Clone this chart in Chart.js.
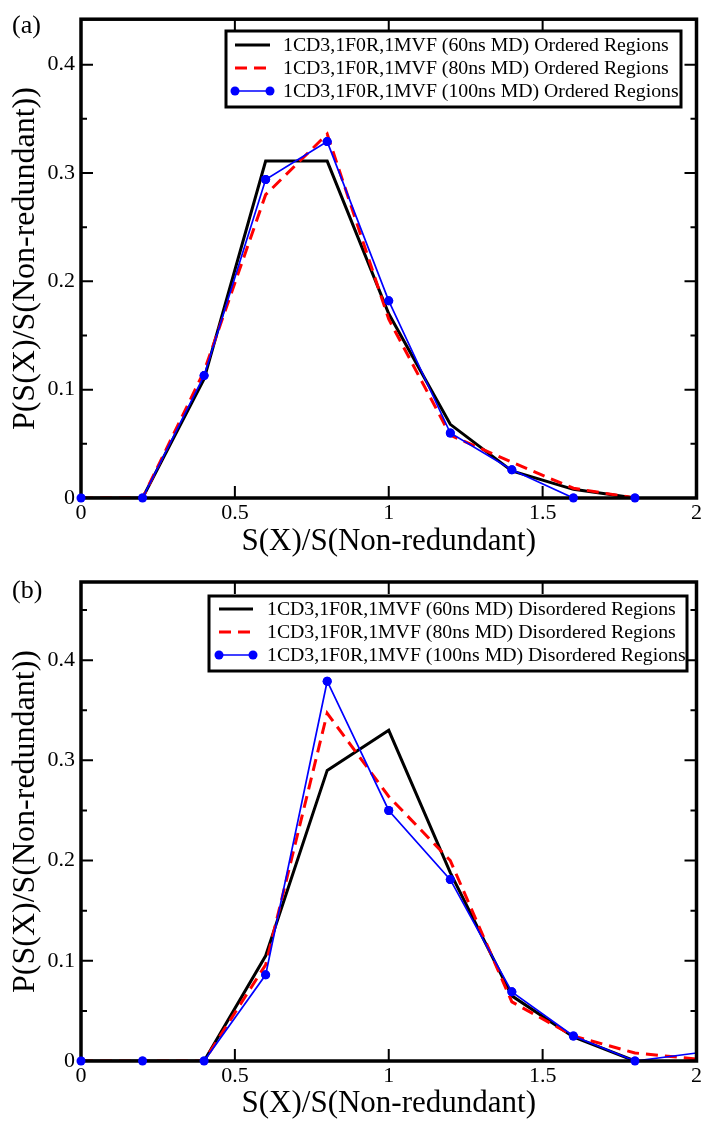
<!DOCTYPE html>
<html><head><meta charset="utf-8">
<script src="https://cdn.jsdelivr.net/npm/chart.js@4"></script>
<style>
body{margin:0;background:#fff;width:704px;height:1122px;overflow:hidden}
.wrap{position:absolute;left:0;width:704px;height:561px}
</style>
</head><body>
<div class="wrap" style="top:0"><canvas id="c1" width="704" height="561"></canvas></div>
<div class="wrap" style="top:561px"><canvas id="c2" width="704" height="561"></canvas></div>
<script>
// ---------- data ----------
const xValues = [0, 0.2, 0.4, 0.6, 0.8, 1.0, 1.2, 1.4, 1.6, 1.8, 2.0];

const seriesNames = ['60ns MD', '80ns MD', '100ns MD'];

// panel (a): ordered regions
const ordered60  = [0, 0, 0.110, 0.311, 0.311, 0.170, 0.068, 0.025, 0.008, 0];
const ordered80  = [0, 0, 0.117, 0.280, 0.336, 0.165, 0.058, 0.033, 0.009, 0];
const ordered100 = [0, 0, 0.113, 0.294, 0.329, 0.182, 0.060, 0.026, 0, 0];

// panel (b): disordered regions
const disordered60  = [0, 0, 0, 0.105, 0.290, 0.330, 0.188, 0.065, 0.024, 0];
const disordered80  = [0, 0, 0, 0.096, 0.347, 0.264, 0.200, 0.059, 0.025, 0.008, 0.002];
const disordered100 = [0, 0, 0, 0.086, 0.379, 0.250, 0.181, 0.069, 0.025, 0, 0.008];

// ticks
const xTickValues = [0, 0.5, 1, 1.5, 2];
const xTickLabels = ['0', '0.5', '1', '1.5', '2'];
const yTickValues = [0, 0.1, 0.2, 0.3, 0.4];
const yTickLabels = ['0', '0.1', '0.2', '0.3', '0.4'];
const yMinorA = [0.05, 0.15, 0.25, 0.35];
const yMinorB = [0.05, 0.15, 0.25, 0.35, 0.45];

const xTitle = 'S(X)/S(Non-redundant)';
const yTitle = 'P(S(X)/S(Non-redundant))';

// ---------- rendering ----------
const FONT = '"Liberation Serif", "Times New Roman", serif';

function pts(arr){ return arr.map((v,i)=>({x:xValues[i], y:v})); }

const framePlugin = {
  id: 'frame',
  afterDatasetsDraw(chart, args, o) {
    const {ctx, chartArea: a, scales: {x, y}} = chart;
    ctx.save();
    ctx.strokeStyle = '#000';
    ctx.lineWidth = 2;
    ctx.beginPath();
    xTickValues.forEach(v => {
      const px = x.getPixelForValue(v);
      ctx.moveTo(px, a.bottom); ctx.lineTo(px, a.bottom - 12);
      ctx.moveTo(px, a.top); ctx.lineTo(px, a.top + 12);
    });
    const tk = (v, len) => {
      const py = y.getPixelForValue(v);
      ctx.moveTo(a.left, py); ctx.lineTo(a.left + len, py);
      ctx.moveTo(a.right, py); ctx.lineTo(a.right - len, py);
    };
    yTickValues.forEach(v => tk(v, 12));
    o.minor.forEach(v => tk(v, 6));
    ctx.stroke();
    ctx.lineWidth = 3.5;
    ctx.strokeRect(a.left, a.top, a.right - a.left, a.bottom - a.top);
    ctx.restore();

    // symbols drawn over the frame
    chart.data.datasets.forEach((ds, i) => {
      if (ds.pointBackgroundColor) {
        chart.getDatasetMeta(i).data.forEach(p => p.draw(ctx, a));
      }
    });

    ctx.save();
    // panel label
    ctx.fillStyle = '#000';
    ctx.font = '26px ' + FONT;
    ctx.textBaseline = 'middle';
    ctx.textAlign = 'left';
    ctx.fillText(o.panel, 12, o.panelY);

    // legend
    const L = o.legend;
    ctx.fillStyle = '#fff';
    ctx.fillRect(L.left, L.top, L.right - L.left, L.bottom - L.top);
    ctx.strokeStyle = '#000';
    ctx.lineWidth = 3;
    ctx.strokeRect(L.left, L.top, L.right - L.left, L.bottom - L.top);
    ctx.font = '19.8px ' + FONT;
    chart.data.datasets.forEach((ds, i) => {
      const ry = L.rows[i];
      ctx.save();
      ctx.strokeStyle = ds.borderColor;
      ctx.lineWidth = ds.borderWidth;
      ctx.setLineDash(ds.borderDash || []);
      ctx.beginPath();
      ctx.moveTo(L.x1, ry); ctx.lineTo(L.x2, ry);
      ctx.stroke();
      ctx.setLineDash([]);
      if (ds.pointBackgroundColor) {
        ctx.fillStyle = ds.pointBackgroundColor;
        [L.x1, L.x2].forEach(px => { ctx.beginPath(); ctx.arc(px, ry, 4.5, 0, Math.PI*2); ctx.fill(); });
      }
      ctx.restore();
      ctx.fillStyle = '#000';
      ctx.fillText(ds.label, L.textX, ry + 1);
    });
    ctx.restore();
  }
};

function makeChart(id, s60, s80, s100, suffix, ymax, padTop, xHeight, titlePadBottom, minor, panel, panelY, legend) {
  const names = seriesNames.map(n => '1CD3,1F0R,1MVF (' + n + ') ' + suffix);
  return new Chart(document.getElementById(id), {
    type: 'line',
    data: {
      datasets: [
        {label: names[0], data: pts(s60), borderColor: '#000000', borderWidth: 3, pointRadius: 0, order: 3, tension: 0},
        {label: names[1], data: pts(s80), borderColor: '#ff0000', borderWidth: 3, borderDash: [12, 7], pointRadius: 0, order: 2, tension: 0},
        {label: names[2], data: pts(s100), borderColor: '#0000ff', borderWidth: 1.7, order: 1, tension: 0,
         pointRadius: c => (c.raw && c.raw.x >= 2 ? 0 : 4.5), pointBackgroundColor: '#0000ff', pointBorderWidth: 0, pointHoverRadius: 0}
      ]
    },
    options: {
      responsive: false,
      animation: false,
      devicePixelRatio: 1,
      layout: {padding: {left: 0, right: 7, top: padTop, bottom: 0}},
      plugins: {
        legend: {display: false},
        tooltip: {enabled: false},
        frame: {minor: minor, panel: panel, panelY: panelY, legend: legend}
      },
      scales: {
        x: {
          type: 'linear', min: 0, max: 2,
          grid: {display: false, drawTicks: false},
          border: {display: false},
          afterBuildTicks: s => { s.ticks = xTickValues.map(v => ({value: v})); },
          ticks: {
            autoSkip: false, maxRotation: 0, padding: 2, color: '#000',
            font: {family: FONT, size: 22},
            callback: v => { const i = xTickValues.indexOf(v); return i >= 0 ? xTickLabels[i] : ''; }
          },
          title: {display: true, text: xTitle, color: '#000', font: {family: FONT, size: 31}, padding: {top: 0, bottom: titlePadBottom}},
          afterFit: s => { s.height = xHeight; }
        },
        y: {
          type: 'linear', min: 0, max: ymax,
          grid: {display: false, drawTicks: false},
          border: {display: false},
          afterBuildTicks: s => { s.ticks = yTickValues.concat(minor).sort((a,b)=>a-b).map(v => ({value: v})); },
          ticks: {
            autoSkip: false, padding: 6, color: '#000',
            font: {family: FONT, size: 22},
            callback: v => { const i = yTickValues.findIndex(t => Math.abs(t - v) < 1e-9); return i >= 0 ? yTickLabels[i] : ''; }
          },
          title: {display: true, text: yTitle, color: '#000', font: {family: FONT, size: 32}, padding: {top: 6, bottom: 0}},
          afterFit: s => { s.width = 81; }
        }
      }
    },
    plugins: [framePlugin]
  });
}

makeChart('c1', ordered60, ordered80, ordered100, 'Ordered Regions', 0.442, 16, 63, 1, yMinorA, '(a)', 26,
  {left: 226, right: 681, top: 31, bottom: 107, rows: [45, 68, 91], x1: 235, x2: 270, textX: 283});
makeChart('c2', disordered60, disordered80, disordered100, 'Disordered Regions', 0.478, 21, 61, 0, yMinorB, '(b)', 30,
  {left: 209, right: 687, top: 35, bottom: 110, rows: [48, 71, 94], x1: 219, x2: 253, textX: 267});
</script>
</body></html>
